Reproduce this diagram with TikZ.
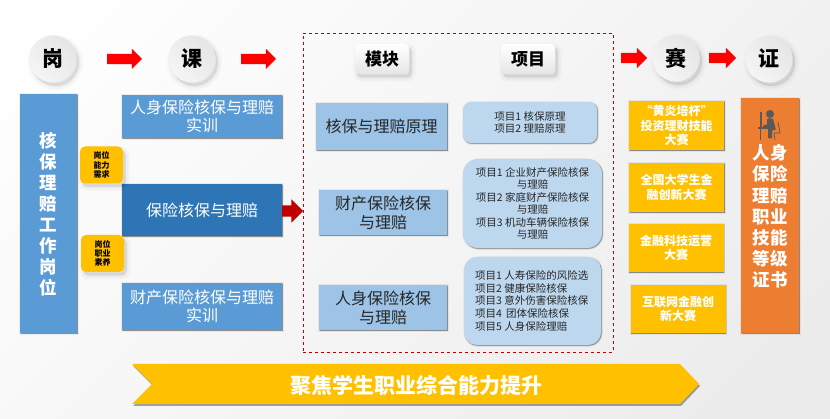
\documentclass[tikz,border=0pt]{standalone}
\usepackage{fontspec}
\setmainfont{Noto Sans CJK SC}
\usetikzlibrary{shadows,shapes.arrows}
\definecolor{blueA}{HTML}{5B9BD5}
\definecolor{blueB}{HTML}{2E75B6}
\definecolor{blueC}{HTML}{9DC3E6}
\definecolor{blueD}{HTML}{BDD7EE}
\definecolor{goldA}{HTML}{FFC000}
\definecolor{orangeA}{HTML}{ED7D31}
\definecolor{redA}{HTML}{C00000}
\definecolor{iconA}{HTML}{595959}
\newcommand{\fz}[2]{\fontsize{#1pt}{#2pt}\selectfont}
\tikzset{
  x=1pt,y=-1pt,
  softshadow/.style={
    general shadow={shadow xshift=.7pt,shadow yshift=-.7pt,draw=black,fill=black,line width=2.5pt,opacity=.06},
    general shadow={shadow xshift=.7pt,shadow yshift=-.7pt,draw=black,fill=black,line width=1pt,opacity=.12},
    general shadow={shadow xshift=.7pt,shadow yshift=-.7pt,fill=black,opacity=.15}},
  widesoft/.style={
    general shadow={shadow xshift=2.5pt,shadow yshift=-3.5pt,draw=black,fill=black,line width=9pt,opacity=.015},
    general shadow={shadow xshift=2.5pt,shadow yshift=-3.5pt,draw=black,fill=black,line width=6pt,opacity=.02},
    general shadow={shadow xshift=2.5pt,shadow yshift=-3.5pt,draw=black,fill=black,line width=3pt,opacity=.025},
    general shadow={shadow xshift=2.5pt,shadow yshift=-3.5pt,fill=black,opacity=.03}},
  rectbox/.style={rectangle,inner sep=0pt,outer sep=0pt,align=center},
  sidebox/.style={rectbox,softshadow,minimum width=57pt},
  coursebox/.style={rectbox,softshadow,fill=blueA,text=white,minimum width=160pt,font=\fz{16}{18.6}},
  tagbox/.style={rectbox,rounded corners=5pt,fill=goldA,widesoft,minimum width=43pt,minimum height=37pt,font=\fz{8}{9.3}\bfseries,text=black},
  circlebox/.style={circle,inner sep=0pt,outer sep=0pt,minimum size=47pt,fill=white!93!black,widesoft,font=\fz{21}{21}\bfseries,text=black,
    path picture={\shade[left color=white!90!black,right color=white!96!black,shading angle=-45] (path picture bounding box.south west) rectangle (path picture bounding box.north east);}},
  headbox/.style={rectbox,rounded corners=4pt,fill=white!96!black,minimum width=54pt,minimum height=30pt,widesoft,font=\fz{17}{17}\bfseries,text=black,
    path picture={\shade[top color=white,bottom color=white!90!black] (path picture bounding box.south west) rectangle (path picture bounding box.north east);}},
  modulebox/.style={rectbox,softshadow,fill=blueC,text=black!85,font=\fz{16}{19},minimum height=45pt,minimum width=128pt},
  itembox/.style={rectbox,softshadow,fill=blueD,text=black!85,font=\fz{10.5}{12.4}},
  contestbox/.style={rectbox,softshadow,fill=goldA,text=white,font=\fz{12}{14.5}\bfseries,minimum width=95pt,minimum height=48pt},
  flowarrow/.style={single arrow,fill=red,inner sep=5pt,outer sep=0pt,single arrow head extend=5pt,minimum width=20pt,shape border rotate=0,anchor=tail},
  vtext/.style={align=center,text=white,inner sep=0pt},
}
\begin{document}
\begin{tikzpicture}
\useasboundingbox (0,0) rectangle (830,419);
\begin{scope}
\clip (0,0) rectangle (830,419);
\shade[top color=white,bottom color=white!92!black,shading angle=45] (0,-205) rectangle (830,625);
\end{scope}

% circles
\node[circlebox] (gang) at (53,59) {岗};
\node[circlebox] (ke) at (192,59) {课};
\node[circlebox] (sai) at (676,58) {赛};
\node[circlebox] (zheng) at (769,59) {证};

% arrows
\node[flowarrow,minimum height=35pt] (a1) at (107,59) {};
\node[flowarrow,minimum height=35pt] (a2) at (241,59) {};
\node[flowarrow,minimum height=26pt] (a3) at (621,58) {};
\node[flowarrow,minimum height=27pt] (a4) at (709,58) {};

% left column
\node[sidebox,fill=blueA,minimum height=239pt] (post) at (48.5,213.5) {};
\node[vtext,font=\fz{17.5}{21}\bfseries] (posttext) at (48.5,214.5) {核\\保\\理\\赔\\工\\作\\岗\\位};

% courses
\node[coursebox,minimum height=43pt] (c1) at (202,116.5) {\raisebox{-1pt}{人身保险核保与理赔}\\\raisebox{-1pt}{实训}};
\node[coursebox,minimum height=52pt,fill=blueB] (c2) at (202,210) {保险核保与理赔};
\node[coursebox,minimum height=47pt] (c3) at (202,306.5) {财产保险核保与理赔\\实训};
\node[tagbox] (t1) at (101.5,165) {岗位\\能力\\需求};
\node[tagbox] (t2) at (102.5,253.5) {岗位\\职业\\素养};
\node[single arrow,fill=redA,inner sep=5.5pt,outer sep=0pt,single arrow head extend=6pt,minimum width=23pt,minimum height=21pt,anchor=tail] (a5) at (282,211) {};

% dashed frame
\node[rectangle,draw=redA,dashed,line width=.7pt,minimum width=310pt,minimum height=319pt,inner sep=0pt,outer sep=0pt] (frame) at (458,192.5) {};
\node[headbox] (h1) at (382,59) {模块};
\node[headbox] (h2) at (528,59) {项目};

% modules
\node[modulebox,minimum width=131pt,minimum height=47pt] (m1) at (381.5,126.5) {核保与理赔原理};
\node[modulebox] (m2) at (383,212.5) {财产保险核保\\与理赔};
\node[modulebox] (m3) at (383,307.5) {人身保险核保\\与理赔};

% items
\node[itembox,rounded corners=8pt,minimum width=134pt,minimum height=41pt] (i1) at (530,122.5) {项目1 核保原理\\项目2 理赔原理};
\node[itembox,rounded corners=15pt,minimum width=139pt,minimum height=89pt] (i2) at (532.5,203.5) {项目1 企业财产保险核保\\与理赔\\项目2 家庭财产保险核保\\与理赔\\项目3 机动车辆保险核保\\与理赔};
\node[itembox,rounded corners=13pt,minimum width=137pt,minimum height=88pt] (i3) at (532.5,301) {};
\node[text=black!85,font=\fz{10.5}{12.8},align=left,inner sep=0pt,anchor=west] (i3t) at (475,301) {项目1 人寿保险的风险选\\项目2 健康保险核保\\项目3 意外伤害保险核保\\项目4 \,团体保险核保\\项目5 人身保险理赔};

% contests
\node[contestbox,minimum height=49pt] (k1) at (676.5,125.5) {“黄炎培杯”\\投资理财技能\\大赛};
\node[contestbox,minimum height=49pt] (k2) at (676.5,187.5) {全国大学生金\\融创新大赛};
\node[contestbox] (k3) at (676,248) {金融科技运营\\大赛};
\node[contestbox] (k4) at (678,309) {互联网金融创\\新大赛};

% certificate
\node[sidebox,fill=orangeA,minimum width=58pt,minimum height=235pt] (cert) at (770,215.5) {};
\node[vtext,font=\fz{17.5}{21.2}\bfseries] (certt) at (770,216.5) {人身\\保险\\理赔\\职业\\技能\\等级\\证书};
% icon
\fill[iconA] (770,114) circle (4);
\fill[iconA,rounded corners=1] (767,118.5) -- (773,118.5) -- (776,130) -- (772,130) -- (772,138.5) -- (768,138.5) -- (768,128) -- (763,127) -- (763,125) -- (767,125) -- cycle;
\fill[iconA] (759.5,112) rectangle (762,128);
\fill[iconA] (758,127.5) rectangle (768,129);
\fill[iconA] (759.5,129) rectangle (761,140);
\draw[iconA,line width=.7pt] (778,122) -- (780,133) -- (774,133) -- (775,140);

% banner
\fill[goldA,general shadow={shadow xshift=1pt,shadow yshift=-2pt,fill=black,opacity=.35}] (132,364) -- (680,364) -- (699,384) -- (680,404) -- (132,404) -- (152,384) -- cycle;
\node[inner sep=0pt,text=white,font=\fz{21}{21}\bfseries] (bannertext) at (416,385) {聚焦学生职业综合能力提升};
\end{tikzpicture}
\end{document}
